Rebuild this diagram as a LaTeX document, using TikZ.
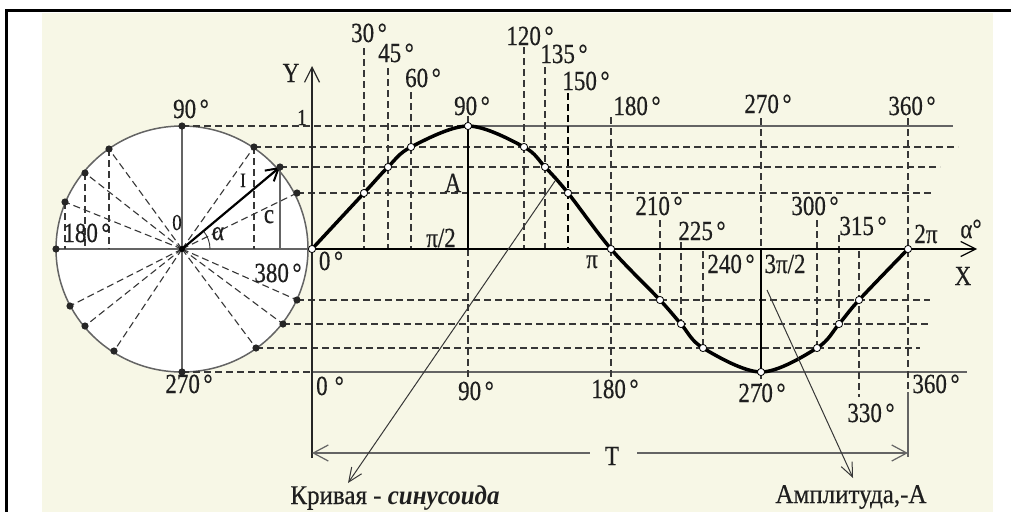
\documentclass[tikz,border=0pt]{standalone}
\usepackage{fontspec}
\setmainfont{Liberation Serif}
\newfontfamily\lf{Liberation Serif}[FakeBold=0.5]
\usetikzlibrary{arrows.meta}
\definecolor{cream}{RGB}{247,247,230}
\definecolor{dgray}{RGB}{55,55,55}
\definecolor{mgray}{RGB}{100,100,100}
\begin{document}
\begin{tikzpicture}[x=1pt,y=-1pt,
  dsh/.style={dgray,line width=1.1pt,dash pattern=on 7pt off 4pt},
  bdsh/.style={black,line width=2.2pt,dash pattern=on 7pt off 4pt},
  sol/.style={mgray,line width=1.8pt},
  thinl/.style={mgray,line width=1.2pt},
  lbl/.style={font=\lf\fontsize{23}{26}\selectfont,text=black!88,inner sep=0pt,anchor=base,yscale=1.2,transform shape},
  capt/.style={font=\fontsize{25}{28}\selectfont,text=black!88,inner sep=0pt,anchor=base,yscale=1.08,transform shape},
  barb/.style={-{Straight Barb[length=15pt,width=15pt,line width=1.2pt]}},
  sbarb/.style={-{Straight Barb[length=14pt,width=12pt,line width=1pt]}},
]
\newcommand\dg{\hspace{3.5pt}°}
% frame and background
\useasboundingbox (0,0) rectangle (1011,512);
\fill[white] (0,0) rectangle (1011,512);
\fill[cream] (42,13) rectangle (993,512);
\draw[black,line width=3pt] (5,10) -- (1011,10);
\draw[black,line width=3pt] (6,9) -- (6,512);

% key coordinates
\coordinate (O) at (182,249);
\coordinate (c30) at (297,193);
\coordinate (c45) at (280,167);
\coordinate (c60) at (254,147);
\coordinate (c90) at (182,126);
\coordinate (c120) at (109,149);
\coordinate (c135) at (85,173);
\coordinate (c150) at (65,202);
\coordinate (c180) at (56,249);
\coordinate (c210) at (70,306);
\coordinate (c225) at (85,326);
\coordinate (c240) at (114,351);
\coordinate (c270) at (182,372);
\coordinate (c300) at (256,348);
\coordinate (c315) at (283,324);
\coordinate (c330) at (297,300);

\coordinate (s0) at (312,249);
\coordinate (s30) at (364,193);
\coordinate (s45) at (388,167);
\coordinate (s60) at (411,147);
\coordinate (s90) at (468,126);
\coordinate (s120) at (524,147);
\coordinate (s135) at (545,167);
\coordinate (s150) at (568,193);
\coordinate (s180) at (611,249);
\coordinate (s210) at (660,300);
\coordinate (s225) at (681,324);
\coordinate (s240) at (703,348);
\coordinate (s270) at (761,372);
\coordinate (s300) at (817,348);
\coordinate (s315) at (839,324);
\coordinate (s330) at (859,300);
\coordinate (s360) at (908,249);

% circle
\draw[mgray,line width=1.5pt,fill=white] (O) ellipse[x radius=126,y radius=123];
\draw[thinl] (c90) -- (c270);
\draw[thinl] (c180) -- (s0);
\foreach \p in {c30,c60,c120,c135,c150,c210,c225,c240,c300,c315,c330}
  \draw[dsh] (O) -- (\p);
\draw[dsh] (c60) -- (c60 |- O);
\draw[thinl] (c45) -- (c45 |- O);
\draw[dsh] (c120) -- (c120 |- O);
\draw[dsh] (c135) -- (c135 |- O);
\draw[dsh] (c150) -- (c150 |- O);
\draw[dgray,line width=0.9pt] (210,249) arc[start angle=0,end angle=-40,radius=28];

% horizontal projection lines
\draw[dsh] (c90) -- (s90);
\draw[sol] (s90) -- (953,126);
\draw[dsh] (c60) -- (958,147);
\draw[dsh] (c45) -- (940,167);
\draw[dsh] (c30) -- (932,193);
\draw[dsh] (c330) -- (930,300);
\draw[dsh] (c315) -- (928,324);
\draw[dsh] (c300) -- (920,348);
\draw[dsh] (c270) -- (312,372);
\draw[sol] (312,372) -- (967,372);

% vertical lines
\draw[dsh] (364,48) -- (364,249);
\draw[dsh] (388,68) -- (388,249);
\draw[dsh] (411,92) -- (411,249);
\draw[dsh] (468,116) -- (s90);
\draw[black,line width=2pt] (s90) -- (468,249);
\draw[dsh] (468,249) -- (468,377);
\draw[dsh] (524,47) -- (524,249);
\draw[dsh] (545,67) -- (545,249);
\draw[bdsh] (568,93) -- (568,249);
\draw[dsh] (611,117) -- (611,378);
\draw[dsh] (660,220) -- (s210);
\draw[dsh] (681,242) -- (s225);
\draw[dsh] (703,251) -- (s240);
\draw[dsh] (761,118) -- (761,249);
\draw[black,line width=2pt] (761,249) -- (s270);
\draw[dsh] (s270) -- (761,386);
\draw[dsh] (817,220) -- (s300);
\draw[dsh] (839,235) -- (s315);
\draw[dsh] (859,251) -- (859,397);
\draw[dsh] (908,118) -- (908,392);
\draw[sol] (908,392) -- (908,457);

% axes
\draw[black,line width=2pt,barb] (s0) -- (977,249);
\draw[black!85,line width=2pt,barb] (312,458) -- (312,66);

% radius arrow and dots
\draw[black,line width=2.2pt,-{Straight Barb[length=12pt,width=14pt,line width=2pt]}] (O) -- (c45);
\foreach \p in {c30,c45,c60,c90,c120,c135,c150,c180,c210,c225,c240,c270,c300,c315,c330}
  \fill[black!85] (\p) circle[radius=3.6pt];
\fill[black] (O) circle[radius=3pt];

% sine curve
\draw[black,line width=3.5pt,line join=round] plot[smooth,tension=0.55] coordinates
  {(s0) (s30) (s45) (s60) (s90) (s120) (s135) (s150) (s180) (s210) (s225) (s240) (s270) (s300) (s315) (s330) (s360)};
\foreach \p in {s0,s30,s45,s60,s90,s120,s135,s150,s180,s210,s225,s240,s270,s300,s315,s330,s360}
  \draw[black,line width=0.8pt,fill=white] (\p) circle[radius=3.6pt];

% period arrow
\node[lbl] (T) at (612,465) {T};
\draw[sol,{Straight Barb[length=15pt,width=16pt,line width=1.2pt]}-] (312,453) -- (590,453);
\draw[sol,-{Straight Barb[length=15pt,width=16pt,line width=1.2pt]}] (637,453) -- (908,453);

% pointer arrows
\coordinate (k1) at (555,181);
\coordinate (k2) at (348,483);
\coordinate (a1) at (767,290);
\coordinate (a2) at (853,478);
\draw[dgray,line width=1pt,sbarb] (k1) -- (k2);
\draw[dgray,line width=1pt,sbarb] (a1) -- (a2);
\node[capt] (kriv) at (395,504) {{\lf Кривая - }\textbf{\textit{синусоида}}};
\node[capt] (ampl) at (851,503) {\lf Амплитуда,-А};

% top degree labels
\node[lbl] (l30) at (369,42) {30\dg};
\node[lbl] (l45) at (396,62) {45\dg};
\node[lbl] (l60) at (423,87) {60\dg};
\node[lbl] (l90) at (472,115) {90\dg};
\node[lbl] (l120) at (530,45) {120\dg};
\node[lbl] (l135) at (564,63) {135\dg};
\node[lbl] (l150) at (586,90) {150\dg};
\node[lbl] (l180) at (637,115) {180\dg};
\node[lbl] (l270) at (768,113) {270\dg};
\node[lbl] (l360) at (912,115) {360\dg};
\node[lbl] (l210) at (659,215) {210\dg};
\node[lbl] (l225) at (702,240) {225\dg};
\node[lbl] (l240) at (731,273) {240\dg};
\node[lbl] (l3pi2) at (785,273) {3π/2};
\node[lbl] (l300) at (815,215) {300\dg};
\node[lbl] (l315) at (863,235) {315\dg};
\node[lbl] (l2pi) at (926,243) {2π};
\node[lbl] (lal) at (971,238) {α°};
\node[lbl] (lX) at (963,285) {X};
\node[lbl] (lpi) at (592,268) {π};
\node[lbl] (lpi2) at (441,247) {π/2};
\node[lbl] (lA) at (453,192) {A};
\node[lbl] (l0o) at (331,270) {0\dg};
\node[lbl,font=\lf\fontsize{19}{22}\selectfont] (l1) at (302,125) {1};
\node[lbl] (lY) at (291,82) {Y};

% circle labels
\node[lbl] (c90l) at (191,118) {90\dg};
\node[lbl] (c270l) at (189,393) {270\dg};
\node[lbl] (c180l) at (87,242) {180\dg};
\node[lbl] (c380l) at (278,282) {380\dg};
\node[lbl,font=\lf\fontsize{19}{22}\selectfont] (c0l) at (177,230) {0};
\node[lbl] (cal) at (218,240) {α};
\node[lbl,font=\lf\fontsize{17}{20}\selectfont] (crl) at (243,187) {I};
\node[lbl] (ccl) at (269,223) {c};

% bottom labels
\node[lbl] (b0) at (330,395) {0\hspace{7pt}°};
\node[lbl] (b90) at (476,400) {90\dg};
\node[lbl] (b180) at (615,398) {180\dg};
\node[lbl] (b270) at (762,402) {270\dg};
\node[lbl] (b360) at (936,393) {360\dg};
\node[lbl] (b330) at (871,422) {330\dg};
\end{tikzpicture}
\end{document}
